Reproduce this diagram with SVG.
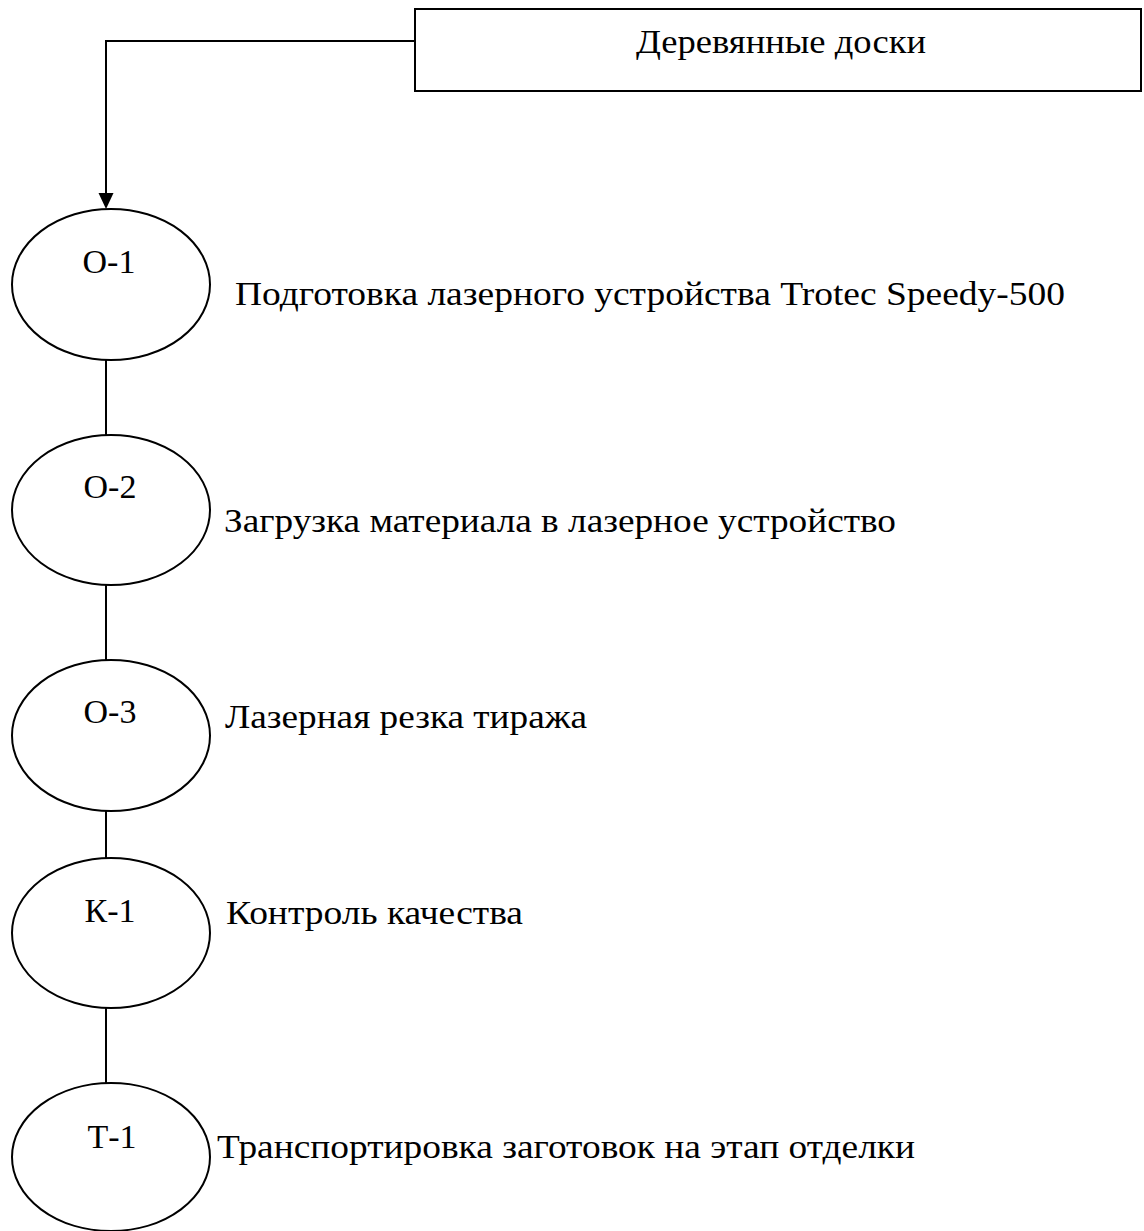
<svg xmlns="http://www.w3.org/2000/svg" width="1144" height="1231" viewBox="0 0 1144 1231">
<style>
.shape{fill:#fff;stroke:#000;stroke-width:2}
.conn{fill:none;stroke:#000;stroke-width:2}
text{font-family:"Liberation Serif","Times New Roman",serif;font-size:34px;fill:#000}
.c{text-anchor:middle}
</style>
<rect width="1144" height="1231" fill="#fff"/>
<g id="connectors">
<path class="conn" d="M415,41 H106 V194"/>
<path d="M98.5,193 L113.5,193 L106,209 z" fill="#000"/>
<line class="conn" x1="106" y1="360" x2="106" y2="435"/>
<line class="conn" x1="106" y1="585" x2="106" y2="660"/>
<line class="conn" x1="106" y1="811" x2="106" y2="858"/>
<line class="conn" x1="106" y1="1008" x2="106" y2="1083"/>
</g>
<g id="n-boards">
<rect class="shape" x="415" y="9" width="726" height="82"/>
<text x="636" y="53" textLength="290" lengthAdjust="spacingAndGlyphs">Деревянные доски</text>
</g>
<g id="n-o1">
<ellipse class="shape" cx="111" cy="284.5" rx="99" ry="75.5"/>
<text class="c" x="109" y="273">О-1</text>
<text x="235" y="305" textLength="830" lengthAdjust="spacingAndGlyphs">Подготовка лазерного устройства Trotec Speedy-500</text>
</g>
<g id="n-o2">
<ellipse class="shape" cx="111" cy="510" rx="99" ry="75"/>
<text class="c" x="110" y="498">О-2</text>
<text x="224" y="532" textLength="672" lengthAdjust="spacingAndGlyphs">Загрузка материала в лазерное устройство</text>
</g>
<g id="n-o3">
<ellipse class="shape" cx="111" cy="735.5" rx="99" ry="75.5"/>
<text class="c" x="110" y="723">О-3</text>
<text x="225" y="728" textLength="362" lengthAdjust="spacingAndGlyphs">Лазерная резка тиража</text>
</g>
<g id="n-k1">
<ellipse class="shape" cx="111" cy="933" rx="99" ry="75"/>
<text class="c" x="110" y="922">К-1</text>
<text x="226" y="924" textLength="297" lengthAdjust="spacingAndGlyphs">Контроль качества</text>
</g>
<g id="n-t1">
<ellipse class="shape" cx="111" cy="1157" rx="99" ry="74"/>
<text class="c" x="112" y="1148">Т-1</text>
<text x="217" y="1158" textLength="698" lengthAdjust="spacingAndGlyphs">Транспортировка заготовок на этап отделки</text>
</g>
</svg>
